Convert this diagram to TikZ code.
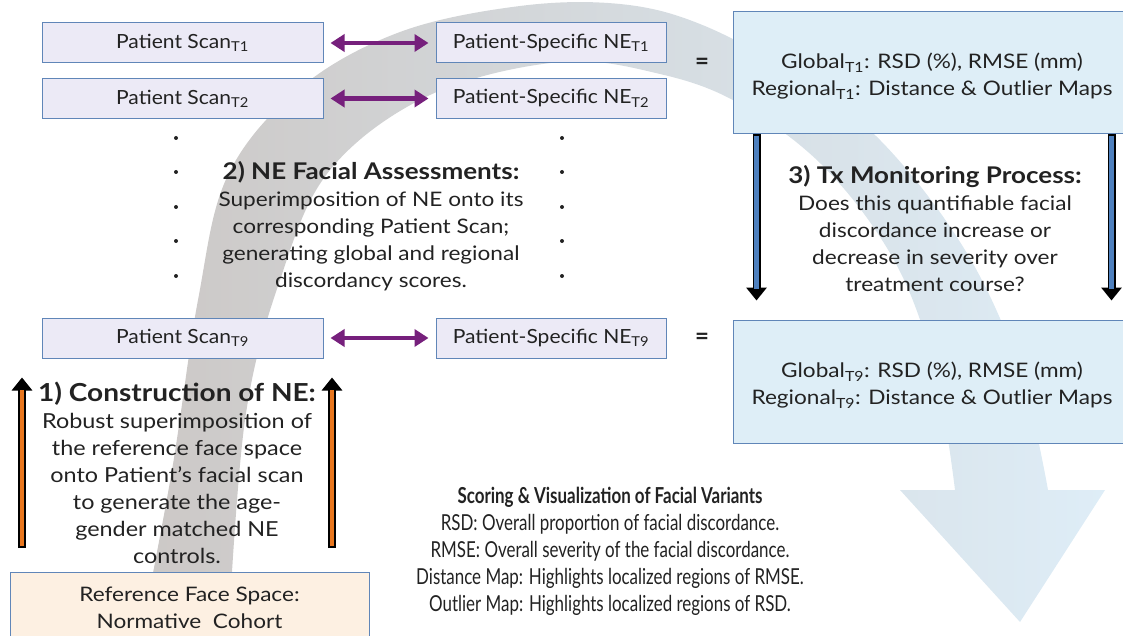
\documentclass[tikz,border=0pt]{standalone}
\usepackage{fontspec}
\setmainfont{Lato}
\newfontfamily\wideface[FakeStretch=1.13]{Lato}
\newfontfamily\boxface[FakeStretch=1.08]{Lato}
\newfontfamily\narrowface[FakeStretch=0.77]{Lato}
\usetikzlibrary{arrows.meta,positioning,calc}

\definecolor{boxline}{RGB}{96,134,184}
\definecolor{scanfill}{RGB}{236,234,246}
\definecolor{resfill}{RGB}{222,238,247}
\definecolor{reffill}{RGB}{253,240,226}
\definecolor{linkpurple}{RGB}{118,32,124}
\definecolor{tubeorange}{RGB}{232,118,30}
\definecolor{tubeblue}{RGB}{78,128,190}
\definecolor{bandgray}{RGB}{204,200,198}
\definecolor{bandlav}{RGB}{226,226,242}
\definecolor{bandblue}{RGB}{222,237,247}
\definecolor{inkgray}{RGB}{34,34,34}

\newcommand{\bodyfont}{\wideface\fontsize{20}{27}\selectfont}
\newcommand{\headfont}{\fontsize{23}{28}\selectfont\bfseries}

\tikzset{
  every node/.style={text=inkgray, font=\bodyfont},
  scanbox/.style={draw=boxline, line width=1pt, fill=scanfill,
    minimum width=281pt, minimum height=40pt, inner sep=0pt,
    font=\boxface\fontsize{19.5}{24}\selectfont},
  nebox/.style={scanbox, minimum width=230pt},
  resbox/.style={draw=boxline, line width=1pt, fill=resfill,
    minimum width=398pt, minimum height=122pt, inner sep=0pt},
  link/.style={linkpurple, line width=4.5pt,
    {Triangle[length=14pt,width=17pt]}-{Triangle[length=14pt,width=17pt]},
    shorten <=7pt, shorten >=7pt},
  tubeout/.style={black, line width=8pt, -{Triangle[length=13pt,width=20pt]}},
  tubein/.style={line width=4.2pt, shorten <=1.9pt, shorten >=12pt},
  eqsign/.style={font=\fontsize{24}{24}\selectfont\bfseries},
  blurb/.style={align=center, inner sep=0pt}
}

\begin{document}
\begin{tikzpicture}[x=1pt,y=-1pt]
\useasboundingbox (0,0) rectangle (1123,636);
\clip (0,0) rectangle (1123,636);

% big curved arrow behind everything
\shade[left color=bandgray, middle color=bandlav, right color=bandblue]
  plot[smooth, tension=0.6] coordinates {(140,640) (172,470) (198,300) (228,175)
    (300,88) (400,32) (520,6) (620,4) (700,24) (790,72) (880,140) (965,250)
    (1020,370) (1048,490)}
  -- (1105,490) -- (1020,622) -- (900,490) -- (955,490)
  -- plot[smooth, tension=0.6] coordinates {(955,490) (935,370) (895,262)
    (825,168) (740,104) (660,74) (560,62) (430,95) (330,170) (280,280)
    (245,420) (228,640)}
  -- cycle;

% time points
\node[scanbox] (scan1) at (182.5,43) {Patient Scan\textsubscript{T1}};
\node[scanbox] (scan2) at (182.5,98.5) {Patient Scan\textsubscript{T2}};
\node[scanbox] (scan9) at (182.5,338) {Patient Scan\textsubscript{T9}};
\node[nebox, right=112pt of scan1] (ne1) {Patient-Specific NE\textsubscript{T1}};
\node[nebox, right=112pt of scan2] (ne2) {Patient-Specific NE\textsubscript{T2}};
\node[nebox, right=112pt of scan9] (ne9) {Patient-Specific NE\textsubscript{T9}};

\draw[link] (scan1) -- (ne1);
\draw[link] (scan2) -- (ne2);
\draw[link] (scan9) -- (ne9);

\node[eqsign] (eq1) at (702,64) {=};
\node[eqsign] (eq9) at (702,339) {=};

% scores
\node[resbox] (res1) at (932,72.5) {};
\node[resbox, minimum height=123pt] (res9) at (932,381.5) {};
\node[blurb] (res1txt) at ($(res1)+(0,4)$) {Global\textsubscript{T1}: RSD (\%), RMSE (mm)\\Regional\textsubscript{T1}: Distance \& Outlier Maps};
\node[blurb] (res9txt) at ($(res9)+(0,4)$) {Global\textsubscript{T9}: RSD (\%), RMSE (mm)\\Regional\textsubscript{T9}: Distance \& Outlier Maps};

% reference face space
\node[draw=boxline, line width=1pt, fill=reffill, minimum width=359pt,
  minimum height=90pt, anchor=north west] (ref) at (10,572) {};
\node[blurb] (reftext) at (189.5,608) {Reference Face Space:\\Normative\ \ Cohort};

% dots between T2 and T9
\foreach \y in {138,172,207,241,276} {
  \fill[inkgray] (176,\y) circle (2pt);
  \fill[inkgray] (562,\y) circle (2pt);
}

% step texts
\node[blurb] (assess) at (371,226) {{\headfont 2) NE Facial Assessments:}\\
  Superimposition of NE onto its\\corresponding Patient Scan;\\
  generating global and regional\\discordancy scores.};
\node[blurb, font=\wideface\fontsize{20.7}{27}\selectfont] (construct) at (177,473)
  {{\fontsize{24.8}{29}\selectfont\bfseries 1) Construction of NE:}\\
  Robust superimposition of\\the reference face space\\
  onto Patient’s facial scan\\to generate the age-\\gender matched NE\\controls.};
\node[blurb] (monitor) at (935,229) {{\headfont 3) Tx Monitoring Process:}\\
  Does this quantifiable facial\\discordance increase or\\
  decrease in severity over\\treatment course?};
\node[blurb, font=\narrowface\fontsize{22}{27}\selectfont] (scoring) at (610,551)
  {{\bfseries Scoring \& Visualization of Facial Variants}\\
  RSD: Overall proportion of facial discordance.\\
  RMSE: Overall severity of the facial discordance.\\
  Distance Map: Highlights localized regions of RMSE.\\
  Outlier Map: Highlights localized regions of RSD.};

% hollow arrows
\coordinate (up1a) at ($(ref.north west)+(12,-24)$);
\coordinate (up1b) at (up1a |- scan9.south);
\coordinate (up2a) at ($(ref.north west)+(322,-24)$);
\coordinate (up2b) at (up2a |- scan9.south);
\coordinate (dn1a) at ($(res1.south west)+(24,0)$);
\coordinate (dn1b) at (dn1a |- res9.north);
\coordinate (dn2a) at ($(res1.south west)+(379,0)$);
\coordinate (dn2b) at (dn2a |- res9.north);
\foreach \a/\b/\c in {up1a/up1b/tubeorange, up2a/up2b/tubeorange,
                      dn1a/dn1b/tubeblue, dn2a/dn2b/tubeblue} {
  \draw[tubeout, shorten <=0pt, shorten >=19pt] (\a) -- (\b);
  \draw[tubein, \c, shorten >=31pt] (\a) -- (\b);
}
\end{tikzpicture}
\end{document}
